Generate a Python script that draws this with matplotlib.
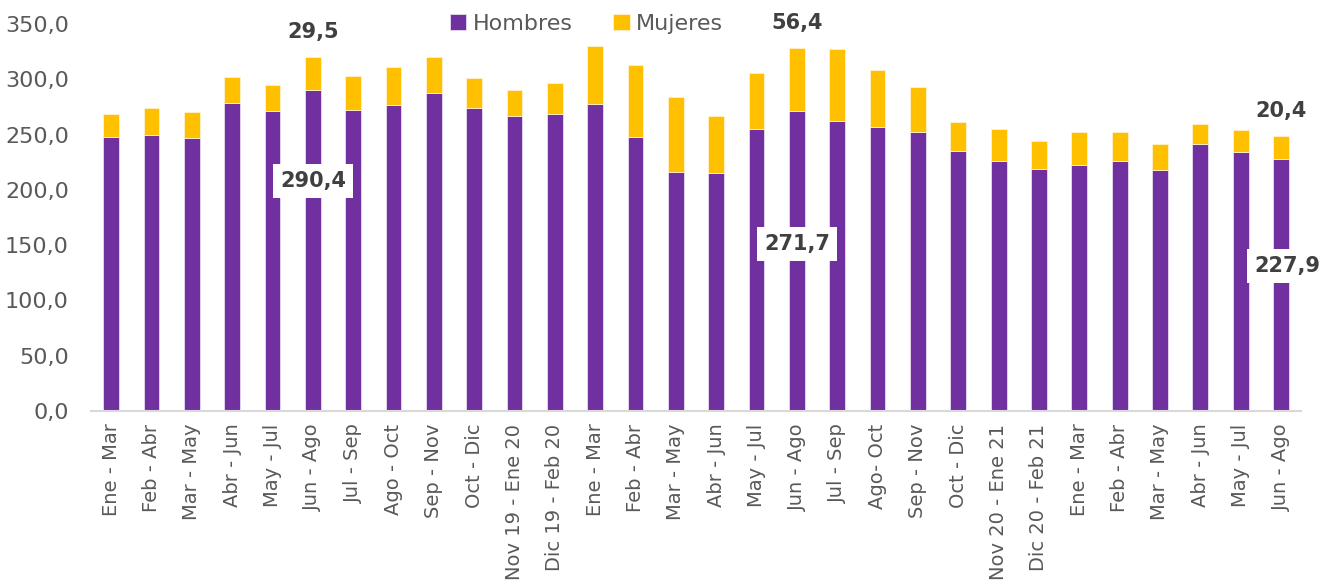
import matplotlib.pyplot as plt
import numpy as np

periodos = ['Ene - Mar', 'Feb - Abr', 'Mar - May', 'Abr - Jun', 'May - Jul', 'Jun - Ago',
            'Jul - Sep', 'Ago - Oct', 'Sep - Nov', 'Oct - Dic', 'Nov 19 - Ene 20', 'Dic 19 - Feb 20',
            'Ene - Mar', 'Feb - Abr', 'Mar - May', 'Abr - Jun', 'May - Jul', 'Jun - Ago',
            'Jul - Sep', 'Ago- Oct', 'Sep - Nov', 'Oct - Dic', 'Nov 20 - Ene 21', 'Dic 20 - Feb 21',
            'Ene - Mar', 'Feb - Abr', 'Mar - May', 'Abr - Jun', 'May - Jul', 'Jun - Ago']

hombres = [248.0, 249.5, 247.1, 278.5, 271.2, 290.4, 272.2, 277.0, 287.5, 273.9,
           267.0, 268.3, 277.9, 248.0, 215.8, 214.9, 255.0, 271.7, 262.2, 256.8,
           252.5, 235.4, 226.3, 218.5, 222.7, 226.0, 217.6, 241.4, 234.5, 227.9]

mujeres = [20.5, 24.5, 23.2, 23.2, 23.6, 29.5, 31.0, 34.0, 32.3, 26.9,
           23.2, 28.0, 52.1, 64.6, 68.1, 51.6, 50.9, 56.4, 64.8, 51.8,
           40.4, 26.2, 28.7, 25.6, 29.3, 26.0, 24.1, 18.1, 19.6, 20.4]

# barras destacadas con etiqueta
destacadas = [5, 17, 29]
pos_etiqueta_h = [208, 151, 131]

morado = '#7030A0'
amarillo = '#FFC000'
gris = '#595959'

plt.rcParams['font.family'] = ['DejaVu Sans']

fig = plt.figure(figsize=(13.21, 5.82), dpi=100)
ax = fig.add_axes([0.0689, 0.2938, 0.9161, 0.665])

x = np.arange(len(periodos))
ax.bar(x, hombres, width=0.39, color=morado, edgecolor='#E8DDF0', linewidth=0.6, label='Hombres')
ax.bar(x, mujeres, width=0.39, bottom=hombres, color=amarillo, edgecolor='#FFF2CC',
       linewidth=0.6, label='Mujeres')

ax.set_xlim(-0.5, len(periodos) - 0.5)
ax.set_ylim(0, 350)
ax.set_yticks(np.arange(0, 351, 50))
ax.set_yticklabels([f'{v:.1f}'.replace('.', ',') for v in np.arange(0, 351, 50)])
ax.set_xticks(x)
ax.set_xticklabels(periodos, rotation=90)

ax.tick_params(axis='y', length=0, pad=16, labelsize=16, labelcolor=gris)
ax.tick_params(axis='x', length=0, pad=9, labelsize=14, labelcolor=gris)
for s in ['left', 'right', 'top']:
    ax.spines[s].set_visible(False)
ax.spines['bottom'].set_color('#D9D9D9')
ax.spines['bottom'].set_linewidth(1.5)

for i, yh in zip(destacadas, pos_etiqueta_h):
    total = hombres[i] + mujeres[i]
    ax.annotate(f'{mujeres[i]:.1f}'.replace('.', ','), xy=(x[i], total), xytext=(0, 11),
                textcoords='offset points', ha='center', va='bottom',
                fontsize=15, fontweight='bold', color='#404040')
    ax.text(x[i] + (0.15 if i == 29 else 0), yh, f'{hombres[i]:.1f}'.replace('.', ','),
            ha='center', va='center', fontsize=15, fontweight='bold', color='#404040',
            bbox=dict(boxstyle='square,pad=0.35', fc='white', ec='none'))

fig.legend(loc='center', bbox_to_anchor=(0.444, 0.959), ncol=2, frameon=False,
           fontsize=16, labelcolor=gris, handlelength=0.75, handleheight=0.75,
           handletextpad=0.3, columnspacing=1.8)

fig.savefig('out.png', dpi=100)
